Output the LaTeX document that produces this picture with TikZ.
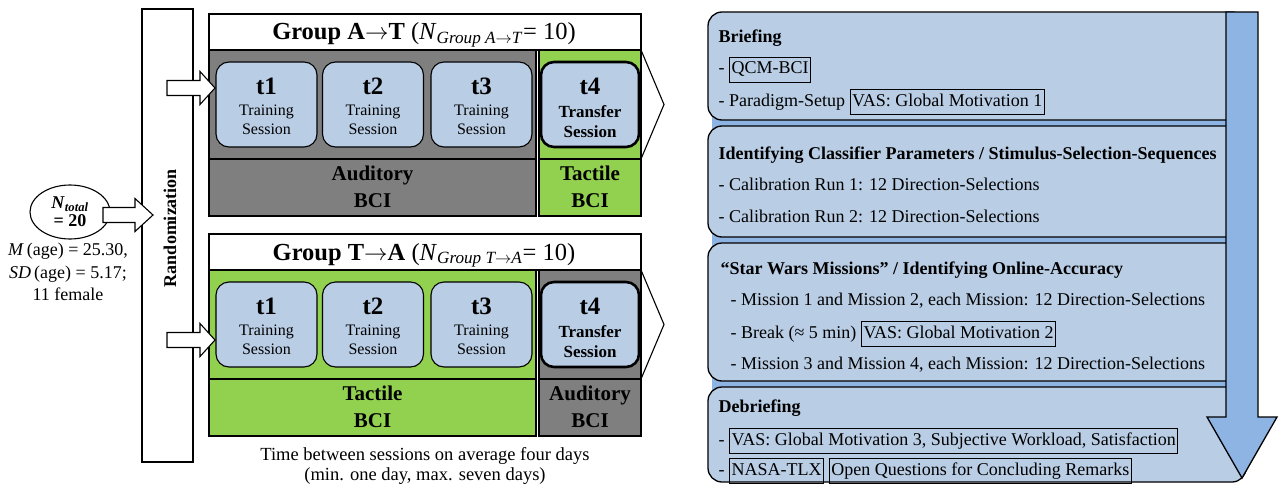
\documentclass[tikz,border=0pt]{standalone}
\usepackage{fontspec}
\setmainfont{Liberation Serif}
\usepackage{tikz}
\usetikzlibrary{positioning,shapes.geometric}
\definecolor{sessBlue}{RGB}{185,205,229}
\definecolor{flowBlue}{RGB}{142,180,227}
\definecolor{audGray}{RGB}{127,127,127}
\definecolor{tacGreen}{RGB}{146,208,80}
\newcommand{\txt}[1]{\fontsize{18}{#1}\selectfont}
\newcommand{\vas}[1]{\fbox{\strut#1}}
\newcommand{\ra}{\ensuremath{\rightarrow}}
\setlength{\fboxsep}{1.5pt}
\setlength{\fboxrule}{1.1pt}
\newcommand{\fatarrow}[4]{\draw[fill=white,line join=miter] (#1,#3-7.5) -- (#2-#4,#3-7.5) -- (#2-#4,#3-16.5) -- (#2,#3) -- (#2-#4,#3+16.5) -- (#2-#4,#3+7.5) -- (#1,#3+7.5) -- cycle;}

\begin{document}
\begin{tikzpicture}[x=1pt,y=-1pt,line width=1.1pt,
  fsize/.style={transform shape,scale=#1/18},
  sess/.style={draw,fill=sessBlue,rounded corners=13pt,minimum width=101pt,minimum height=85pt},
  panel/.style={draw,fill=sessBlue,rounded corners=14pt,line width=1.3pt},
  row/.style={anchor=base west,inner sep=2pt,font=\txt{21}},
  rowhead/.style={row,font=\txt{21}\bfseries},
  bci/.style={fsize=21,align=center,font=\txt{23.1}\bfseries}]
  \useasboundingbox (0,0) rectangle (1284,487);

  \foreach \dy/\k/\grp/\ca/\cb/\la/\lb in {0/A/A\ra T/audGray/tacGreen/Auditory/Tactile,220/T/T\ra A/tacGreen/audGray/Tactile/Auditory} {
    \begin{scope}[yshift=-\dy pt]
      \draw (209,14) rectangle (641,50);
      \node[anchor=base,fsize=24.5,font=\txt{20}] (h\k) at (424,40) {\textbf{Group \grp} (\textit{N}\textsubscript{\textit{Group \grp}}= 10)};
      \draw[fill=\ca] (209,50) rectangle (536,216);
      \draw[fill=\cb] (539,50) rectangle (641,216);
      \draw (209,159) -- (536,159) (539,159) -- (641,159);
      \draw (641,50) -- (664,104.5) -- (641,159);
      \foreach \x/\n in {266.5/1,373/2,481.5/3} {
        \node[sess] (s\k\n) at (\x,104.5) {};
        \node[fsize=25,font=\txt{20}\bfseries] (t\k\n) at (\x,86) {t\n};
        \node[fsize=16,align=center,font=\txt{21.4}] (l\k\n) at (\x,119.5) {Training\\Session};
      }
      \node[sess,minimum width=98pt,line width=2.6pt] (s\k4) at (590,104.5) {};
      \node[fsize=25,font=\txt{20}\bfseries] (t\k4) at (590,86) {t4};
      \node[fsize=17,align=center,font=\txt{21.2}\bfseries] (l\k4) at (590,122) {Transfer\\Session};
      \node[bci] (b\k1) at (372.5,187) {\la\\BCI};
      \node[bci] (b\k2) at (590,187) {\lb\\BCI};
    \end{scope}
  }
  \node[fsize=18.5,align=center,font=\txt{19.5}] (gaps) at (425,466) {Time between sessions on average four days\\(min. one day, max. seven days)};

  \node[draw,minimum width=51pt,minimum height=453pt] (rand) at (167.5,235.5) {};
  \node[rotate=90,font=\txt{20}\bfseries] (randlab) at (170,228) {Randomization};
  \node[draw,ellipse,minimum width=80pt,minimum height=54pt] (ntot) at (70,212) {};
  \node[align=center,font=\txt{18}\bfseries] (ntotlab) at (70,212) {\textit{N}\textsubscript{\textit{total}}\\= 20};
  \node[align=center,font=\txt{22.5}] (stats) at (68,272) {\textit{M}\,(age) = 25.30,\\\textit{SD}\,(age) = 5.17;\\11 female};
  \fatarrow{103}{153}{215}{18}
  \fatarrow{167}{215}{88}{15}
  \fatarrow{167}{215}{340}{15}

  \fill[flowBlue] (712,16) rectangle (1226,415);
  \draw[panel] (708,12) rectangle (1246,120);
  \draw[panel] (708,126) rectangle (1246,237);
  \draw[panel] (708,243) rectangle (1246,381);
  \draw[panel] (708,387) rectangle (1246,482);
  \draw[fill=flowBlue,line width=1.3pt,line join=miter] (1226,12) -- (1258,12) -- (1258,417) -- (1277,417) -- (1242,478) -- (1207,417) -- (1226,417) -- cycle;

  \node[rowhead] (brf) at (716,43) {Briefing};
  \node[row] (brf1) at (716,74) {- \vas{QCM-BCI}};
  \node[row] (brf2) at (716,106) {- Paradigm-Setup \vas{VAS: Global Motivation 1}};
  \node[rowhead] (cal) at (716,159) {Identifying Classifier Parameters / Stimulus-Selection-Sequences};
  \node[row] (cal1) at (716,190) {- Calibration Run 1: 12 Direction-Selections};
  \node[row] (cal2) at (716,222) {- Calibration Run 2: 12 Direction-Selections};
  \node[rowhead] (sw) at (718,274) {“Star Wars Missions” / Identifying Online-Accuracy};
  \node[row] (sw1) at (728,305) {- Mission 1 and Mission 2, each Mission: 12 Direction-Selections};
  \node[row] (sw2) at (728,338) {- Break (≈ 5 min) \vas{VAS: Global Motivation 2}};
  \node[row] (sw3) at (728,369) {- Mission 3 and Mission 4, each Mission: 12 Direction-Selections};
  \node[rowhead] (dbf) at (716,412) {Debriefing};
  \node[row] (dbf1) at (716,445) {- \vas{VAS: Global Motivation 3, Subjective Workload, Satisfaction}};
  \node[row] (dbf2) at (716,475) {- \vas{NASA-TLX} \vas{Open Questions for Concluding Remarks}};
\end{tikzpicture}
\end{document}
